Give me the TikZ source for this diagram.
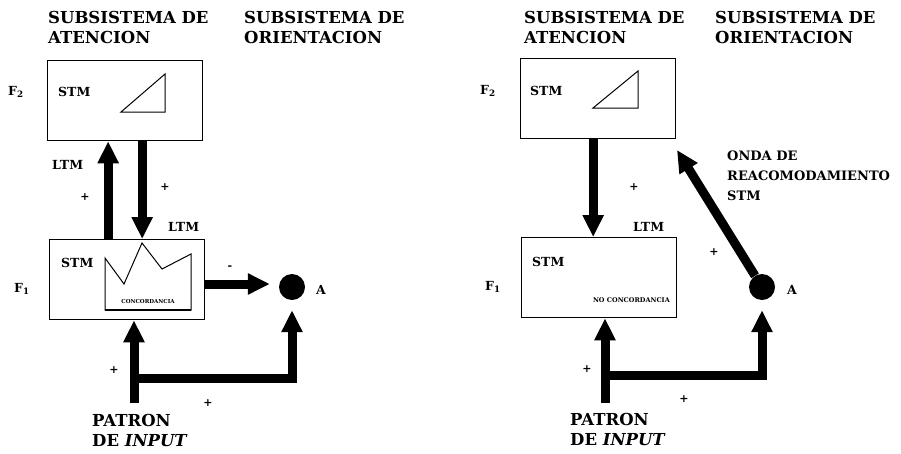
\documentclass[tikz,border=0pt]{standalone}
\usepackage{fontspec}
\setmainfont{DejaVu Serif}
\usetikzlibrary{arrows.meta}

\begin{document}
\begin{tikzpicture}[x=1pt,y=-1pt,
  hd/.style={font=\bfseries\fontsize{16.5}{20}\selectfont,align=left,inner sep=0},
  mid/.style={font=\bfseries\fontsize{12.5}{20}\selectfont,inner sep=0},
  tiny/.style={font=\bfseries\fontsize{5.5}{6}\selectfont,inner sep=0},
  sgn/.style={font=\bfseries\fontsize{11}{11}\selectfont,inner sep=0},
  box/.style={draw,line width=1.3pt,inner sep=0,minimum width=155,minimum height=80,anchor=north west},
  dot/.style={circle,fill,inner sep=0,minimum size=26},
  big/.style={line width=9pt,line join=miter,-{Triangle[width=20pt,length=22pt]}}]
\useasboundingbox (0,0) rectangle (901,453);

% izquierda
\node [hd,anchor=north west] (lhdA) at (48,11) {SUBSISTEMA DE\\ATENCION};
\node [hd,anchor=north west] (lhdO) at (244,11) {SUBSISTEMA DE\\ORIENTACION};
\node [box] (lf2) at (47,60) {};
\node [box] (lf1) at (49,239) {};
\node [mid,anchor=west] (lf2n) at (8,92) {F\textsubscript{2}};
\node [mid,anchor=west] (lf1n) at (14,289) {F\textsubscript{1}};
\node [mid,anchor=west] (lstm2) at (58,92) {STM};
\node [mid,anchor=west] (lstm1) at (61,263) {STM};
\draw [line width=1pt] (121,112) -- (165,74) -- (165,112) -- cycle;
\draw [line width=1pt] (105,258) -- (124,284) -- (142,243) -- (162,269) -- (191,254) -- (191,310) -- (105,310) -- cycle;
\draw [line width=2pt] (105,310) -- (191,310);
\node [tiny] (lconc) at (148,301) {CONCORDANCIA};
\node [dot] (lA) at (292,287) {};
\node [mid,anchor=west] (lAn) at (316,290) {A};
\coordinate (lin) at (134,403);
\coordinate (lj) at (134,378);
\draw [big] ([xshift=-19pt]lf1.north) -- ([xshift=-19pt]lf1.north |- lf2.south);
\draw [big] ([xshift=17pt]lf2.south) -- ([xshift=17pt]lf2.south |- lf1.north);
\draw [big,shorten >=9pt] (lf1.east |- 0,284) -- (lA.west |- 0,284);
\draw [big] (lin) -- (lin |- lf1.south);
\draw [big,shorten >=10pt] (lj) -| (lA.south);
\node [mid,anchor=west] (lltm1) at (52,165) {LTM};
\node [mid,anchor=west] (lltm2) at (168,227) {LTM};
\node [sgn] (lp1) at (85,197) {+};
\node [sgn] (lp2) at (165,187) {+};
\node [sgn] (lm) at (230,268) {-};
\node [sgn] (lp3) at (114,370) {+};
\node [sgn] (lp4) at (208,403) {+};
\node [hd,anchor=north west] (lpat) at (92,414) {PATRON\\DE \textit{INPUT}};

% derecha
\node [hd,anchor=north west] (rhdA) at (524,11) {SUBSISTEMA DE\\ATENCION};
\node [hd,anchor=north west] (rhdO) at (715,11) {SUBSISTEMA DE\\ORIENTACION};
\node [box] (rf2) at (520,58) {};
\node [box] (rf1) at (521,237) {};
\node [mid,anchor=west] (rf2n) at (480,91) {F\textsubscript{2}};
\node [mid,anchor=west] (rf1n) at (485,287) {F\textsubscript{1}};
\node [mid,anchor=west] (rstm2) at (530,91) {STM};
\node [mid,anchor=west] (rstm1) at (532,262) {STM};
\draw [line width=1pt] (593,108) -- (638,71) -- (638,108) -- cycle;
\node [tiny,font=\bfseries\fontsize{6.5}{7}\selectfont,anchor=east] (rnoc) at (670,300) {NO CONCORDANCIA};
\node [dot] (rA) at (762,287) {};
\node [mid,anchor=west] (rAn) at (787,290) {A};
\coordinate (rin) at (605,403);
\coordinate (rj) at (605,375);
\coordinate (rtip) at (677,150);
\draw [big] ([xshift=-5pt]rf2.south) -- ([xshift=-5pt]rf2.south |- rf1.north);
\draw [big] (rA) -- (rtip);
\draw [big] (rin) -- (rin |- rf1.south);
\draw [big,shorten >=10pt] (rj) -| (rA.south);
\node [mid,anchor=west] (rltm) at (633,227) {LTM};
\node [hd,anchor=north west,font=\bfseries\fontsize{13}{20}\selectfont] (ronda) at (727,151) {ONDA DE\\REACOMODAMIENTO\\STM};
\node [sgn] (rp1) at (634,187) {+};
\node [sgn] (rp2) at (714,252) {+};
\node [sgn] (rp3) at (587,369) {+};
\node [sgn] (rp4) at (684,399) {+};
\node [hd,anchor=north west] (rpat) at (570,413) {PATRON\\DE \textit{INPUT}};
\end{tikzpicture}
\end{document}
